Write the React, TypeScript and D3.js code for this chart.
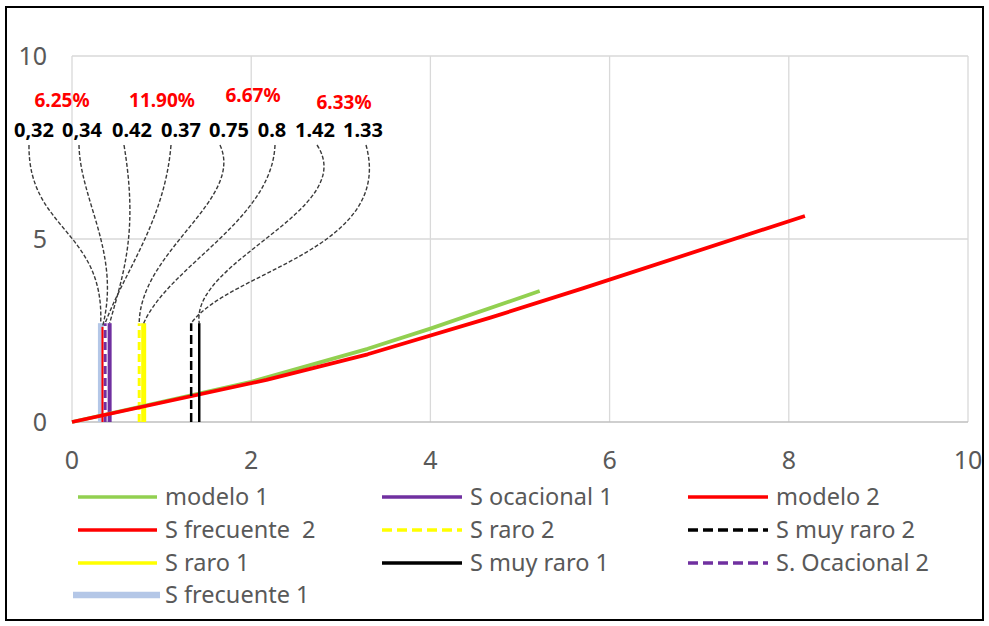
import React from 'react';
import * as d3 from 'd3';

// ---------- data ----------
const modelo1X = [0, 2.0, 3.3, 4.0, 5.22];
const modelo1Y = [0, 1.1, 2.0, 2.55, 3.58];
const modelo2X = [0, 2.17, 3.3, 4.67, 5.7, 8.18];
const modelo2Y = [0, 1.15, 1.85, 2.85, 3.65, 5.63];

// vertical reference series: name, x value, top value
const vNames = ['S frecuente 1', 'S frecuente  2', 'S. Ocacional 2', 'S ocacional 1', 'S raro 2', 'S raro 1', 'S muy raro 2', 'S muy raro 1'];
const vValues = [0.32, 0.34, 0.37, 0.42, 0.75, 0.8, 1.33, 1.42];
const vTop = [2.7, 2.6, 2.7, 2.7, 2.7, 2.7, 2.7, 2.7];

// data labels (in the order they appear left to right)
const labelTexts = ['0,32', '0,34', '0.42', '0.37', '0.75', '0.8', '1.42', '1.33'];
const labelValues = [0.32, 0.34, 0.42, 0.37, 0.75, 0.8, 1.42, 1.33];
const pctTexts = ['6.25%', '11.90%', '6.67%', '6.33%'];

const xTicks = [0, 2, 4, 6, 8, 10];
const yTicks = [0, 5, 10];

const legendNames = [
  'modelo 1', 'S ocacional 1', 'modelo 2',
  'S frecuente  2', 'S raro 2', 'S muy raro 2',
  'S raro 1', 'S muy raro 1', 'S. Ocacional 2',
  'S frecuente 1',
];

// ---------- styles / layout ----------
const W = 989, H = 626;
const GREEN = '#92D050', RED = '#FF0000', PURPLE = '#7030A0', YELLOW = '#FFFF00', BLACK = '#000000', LBLUE = '#B4C7E7';
const vStyle: Record<string, { color: string; width: number; dash?: string }> = {
  'S frecuente 1': { color: LBLUE, width: 5.5 },
  'S frecuente  2': { color: RED, width: 2 },
  'S. Ocacional 2': { color: PURPLE, width: 3, dash: '8 4' },
  'S ocacional 1': { color: PURPLE, width: 4 },
  'S raro 2': { color: YELLOW, width: 3, dash: '8 4' },
  'S raro 1': { color: YELLOW, width: 5 },
  'S muy raro 2': { color: BLACK, width: 2.5, dash: '9 4' },
  'S muy raro 1': { color: BLACK, width: 2.5 },
};
const legendStyle: Record<string, { color: string; width: number; dash?: string }> = {
  'modelo 1': { color: GREEN, width: 3.5 },
  'modelo 2': { color: RED, width: 3.5 },
  'S ocacional 1': { color: PURPLE, width: 3.5 },
  'S frecuente  2': { color: RED, width: 3.5 },
  'S raro 2': { color: YELLOW, width: 3.5, dash: '10 5' },
  'S muy raro 2': { color: BLACK, width: 3.5, dash: '10 5' },
  'S raro 1': { color: YELLOW, width: 3.5 },
  'S muy raro 1': { color: BLACK, width: 3.5 },
  'S. Ocacional 2': { color: PURPLE, width: 3.5, dash: '10 5' },
  'S frecuente 1': { color: LBLUE, width: 6.5 },
};

const labelX = [34, 82, 132, 181, 229, 272, 315, 363];
const labelY = 130;
const pctX = [62, 162, 253, 344];
const pctY = [100, 100, 95, 102];
const leaderStartX = [29, 79, 124, 171, 220, 275, 317, 366];
const leaderStartY = 145;
// control point offsets: [c1dx, c1dy, c2dx, c2dy]
const leaderCtrl = [
  [-1, 85, 4, -93],
  [1, 55, 19, -73],
  [14, 85, 15, -53],
  [-6, 75, 20, -53],
  [25, 55, 1, -73],
  [-3, 75, 26, -58],
  [43, 65, -9, -63],
  [29, 105, 39, -53],
];

const FONT = '"Noto Sans", "Open Sans", sans-serif';

export default function App() {
  const x = d3.scaleLinear().domain([0, 10]).range([72, 968]);
  const y = d3.scaleLinear().domain([0, 10]).range([422, 56]);
  const line = d3.line<[number, number]>().x(d => x(d[0])).y(d => y(d[1]));

  const m1: [number, number][] = modelo1X.map((v, i) => [v, modelo1Y[i]]);
  const m2: [number, number][] = modelo2X.map((v, i) => [v, modelo2Y[i]]);

  const legCols = [[78, 157, 165], [382, 462, 470], [688, 768, 776]];
  const legRows = [497, 530, 563, 595];

  const vLine = (name: string) => {
    const i = vNames.indexOf(name);
    const s = vStyle[name];
    return (
      <path key={name} d={line([[vValues[i], 0], [vValues[i], vTop[i]]]) || ''}
        stroke={s.color} strokeWidth={s.width} strokeDasharray={s.dash} fill="none" />
    );
  };

  return (
    <svg width={W} height={H} style={{ position: 'absolute', left: 0, top: 0, background: '#fff' }}
      fontFamily={FONT}>
      <rect x={0} y={0} width={W} height={H} fill="#fff" />
      <rect x={6} y={7} width={977} height={613} fill="none" stroke="#000" strokeWidth={2} />

      {/* grid */}
      {xTicks.map(t => (
        <line key={'gx' + t} x1={x(t)} x2={x(t)} y1={y(0)} y2={y(10)} stroke="#d9d9d9" strokeWidth={1.3} />
      ))}
      {yTicks.map(t => (
        <line key={'gy' + t} x1={x(0)} x2={x(10)} y1={y(t)} y2={y(t)} stroke={t === 0 ? '#bfbfbf' : '#d9d9d9'} strokeWidth={1.3} />
      ))}

      {/* tick labels */}
      {yTicks.map(t => (
        <text key={'ty' + t} x={47} y={y(t)} dy="0.35em" textAnchor="end" fontSize={25} fill="#595959">{t}</text>
      ))}
      {xTicks.map(t => (
        <text key={'tx' + t} x={x(t)} y={460} dy="0.35em" textAnchor="middle" fontSize={25} fill="#595959">{t}</text>
      ))}

      {/* vertical series */}
      {vLine('S frecuente 1')}
      {vLine('S. Ocacional 2')}
      {vLine('S ocacional 1')}
      {vLine('S raro 1')}
      {vLine('S raro 2')}

      {/* model lines */}
      <path d={line(m1) || ''} stroke={GREEN} strokeWidth={3.8} fill="none" strokeLinejoin="round" />
      <path d={line(m2) || ''} stroke={RED} strokeWidth={3.8} fill="none" strokeLinejoin="round" />

      {vLine('S frecuente  2')}
      {vLine('S muy raro 2')}
      {vLine('S muy raro 1')}

      {/* leader lines */}
      {labelValues.map((v, i) => {
        const sx = leaderStartX[i], sy = leaderStartY;
        const vi = vValues.indexOf(v);
        const ex = x(v), ey = y(vTop[vi]);
        const c = leaderCtrl[i];
        const p = d3.path();
        p.moveTo(sx, sy);
        p.bezierCurveTo(sx + c[0], sy + c[1], ex + c[2], ey + c[3], ex, ey);
        return <path key={'ld' + i} d={p.toString()} stroke="#3a3a3a" strokeWidth={1.4} strokeDasharray="4 2" fill="none" />;
      })}

      {/* data labels */}
      {labelTexts.map((t, i) => (
        <text key={'lb' + i} x={labelX[i]} y={labelY} dy="0.35em" textAnchor="middle" fontSize={20} fontWeight="bold" fill="#000">{t}</text>
      ))}
      {pctTexts.map((t, i) => (
        <text key={'pc' + i} x={pctX[i]} y={pctY[i]} dy="0.35em" textAnchor="middle" fontSize={19} fontWeight="bold" fill={RED}>{t}</text>
      ))}

      {/* legend */}
      {legendNames.map((n, i) => {
        const col = legCols[i % 3];
        const ry = legRows[Math.floor(i / 3)];
        const s = legendStyle[n];
        const isWide = n === 'S frecuente 1';
        return (
          <g key={'lg' + i}>
            <line x1={isWide ? col[0] - 5 : col[0]} x2={isWide ? col[1] + 3 : col[1]} y1={ry} y2={ry}
              stroke={s.color} strokeWidth={s.width} strokeDasharray={s.dash} />
            <text x={col[2]} y={ry} dy="0.35em" fontSize={23.5} fill="#595959" style={{ whiteSpace: 'pre' }}>{n}</text>
          </g>
        );
      })}
    </svg>
  );
}
